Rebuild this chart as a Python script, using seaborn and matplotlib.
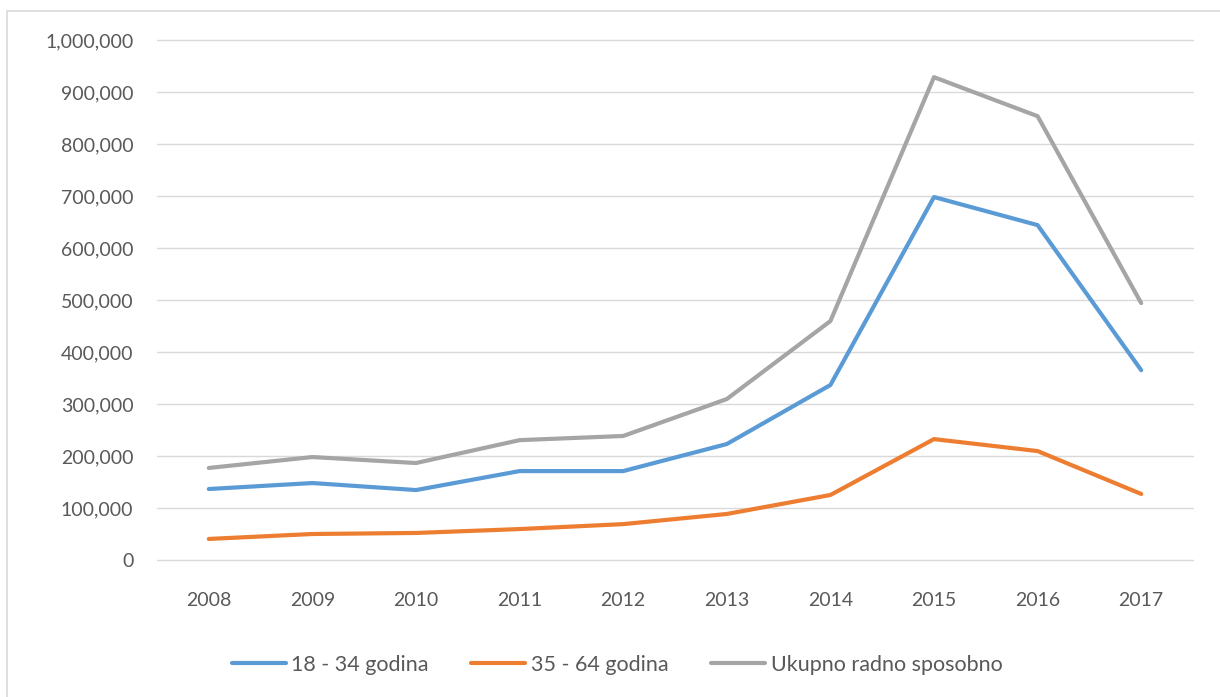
import pandas as pd
import numpy as np
import matplotlib
matplotlib.use('Agg')
import matplotlib.pyplot as plt
import matplotlib.ticker as mticker
from matplotlib.patches import Rectangle
import seaborn as sns

years = [2008, 2009, 2010, 2011, 2012, 2013, 2014, 2015, 2016, 2017]
young = [136500, 148000, 134500, 171000, 171000, 223000, 336500, 698000, 644000, 365000]
older = [40500, 50000, 52000, 59500, 69000, 88500, 125000, 232500, 209500, 127000]
total = [177000, 198000, 186500, 230500, 238500, 309500, 459500, 928500, 853500, 494000]
series_names = ['18 - 34 godina', '35 - 64 godina', 'Ukupno radno sposobno']
colors = ['#5B9BD5', '#ED7D31', '#A5A5A5']

df = pd.DataFrame({'Godina': years,
                   series_names[0]: young,
                   series_names[1]: older,
                   series_names[2]: total})
long_df = df.melt(id_vars='Godina', var_name='Grupa', value_name='Broj')

sns.set_style('white')
plt.rcParams['font.family'] = ['Lato', 'DejaVu Sans']
text_color = '#595959'

fig = plt.figure(figsize=(12.2, 6.97), dpi=100)
ax = fig.add_axes([157 / 1220, 1 - 560 / 697, (1193 - 157) / 1220, (560 - 40) / 697])

sns.lineplot(data=long_df, x='Godina', y='Broj', hue='Grupa', hue_order=series_names,
             palette=colors, linewidth=3.0, ax=ax, solid_capstyle='round', legend=True)

ax.set_xlim(2007.5, 2017.5)
ax.set_ylim(0, 1000000)
ax.set_xticks(years)
ax.set_yticks(np.arange(0, 1000001, 100000))
ax.yaxis.set_major_formatter(mticker.FuncFormatter(lambda v, p: f'{int(v):,}'))
ax.grid(axis='y', color='#D9D9D9', linewidth=1.0)
ax.grid(axis='x', visible=False)
for gl in ax.get_ygridlines():
    gl.set_clip_on(False)
ax.set_axisbelow(True)
for s in ax.spines.values():
    s.set_visible(False)
ax.tick_params(axis='both', length=0, labelsize=14, labelcolor=text_color)
ax.tick_params(axis='y', pad=17)
ax.tick_params(axis='x', pad=23)
ax.set_xlabel('')
ax.set_ylabel('')

handles, labels = ax.get_legend_handles_labels()
ax.legend(handles, labels, loc='center', bbox_to_anchor=(617 / 1220, 1 - 665 / 697),
          bbox_transform=fig.transFigure, ncol=3, frameon=False, fontsize=15.5,
          handlelength=2.5, handletextpad=0.25, columnspacing=2.0, labelcolor=text_color)

fig.patches.append(Rectangle((7 / 1220, -0.05), 1.1, 1 - 11 / 697 + 0.05,
                             transform=fig.transFigure, fill=False,
                             edgecolor='#D9D9D9', linewidth=1.2, zorder=0))

fig.savefig('out.png', dpi=100)
